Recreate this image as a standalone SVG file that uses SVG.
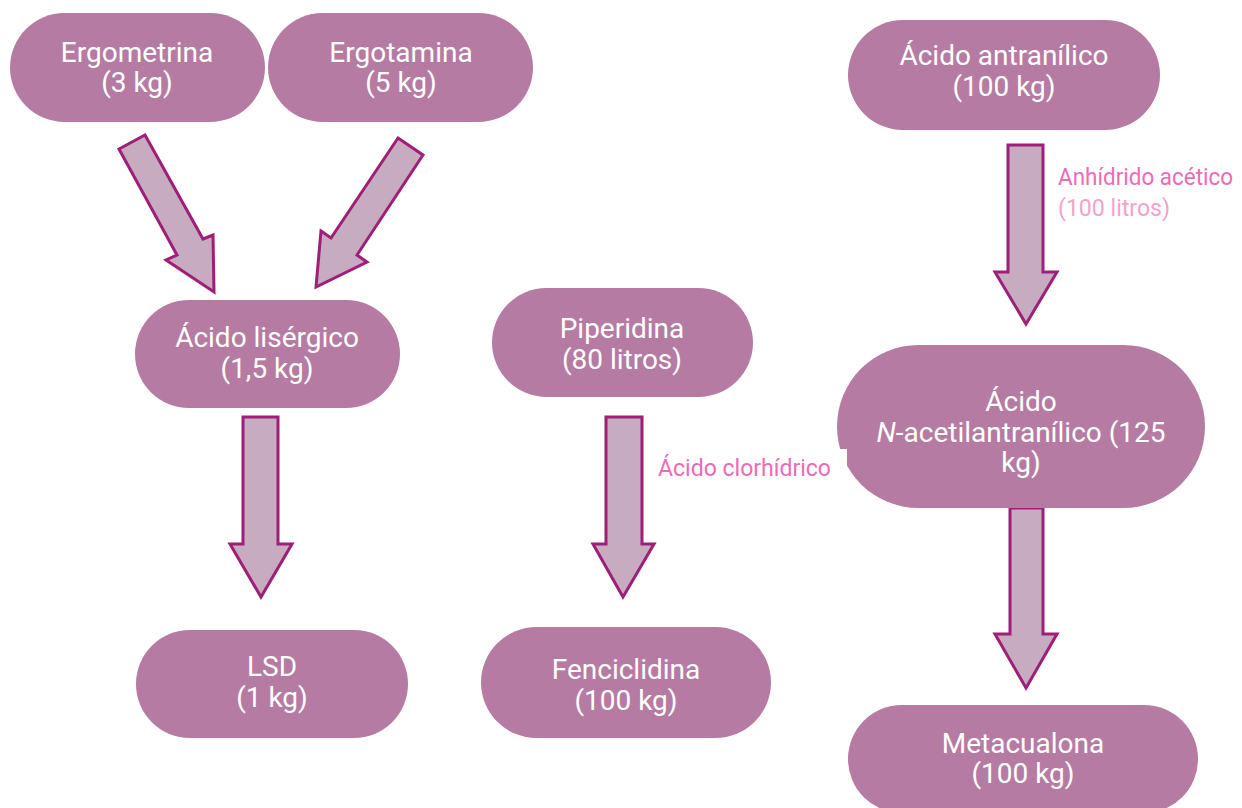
<svg xmlns="http://www.w3.org/2000/svg" width="1242" height="808" viewBox="0 0 1242 808">
<style>
.node{fill:#B67BA2}
.nt{font-family:Roboto,"Liberation Sans",sans-serif;font-size:28px;fill:#ffffff;text-anchor:middle}
.arrow{fill:#C6ABC1;stroke:#9E1E78;stroke-width:3;stroke-linejoin:miter}
.lbl{font-family:Roboto,"Liberation Sans",sans-serif;font-size:24px;fill:#EE6BB5}
.lbl2{fill:#F3A2CC}
</style>
<rect width="1242" height="808" fill="#ffffff"/>
<g id="connectors">
<polygon class="arrow" points="119,149 145,135 203,239 213,235 214,292 166,260 177,255"/>
<polygon class="arrow" points="398,138 423,155 357,255 367,262 316,287 321,231 331,238"/>
<polygon class="arrow" points="243,417 278,417 278,544 292,544 261,597 230,544 243,544"/>
<polygon class="arrow" points="606,417 642,417 642,544 654,544 623,597 593,544 606,544"/>
<polygon class="arrow" points="1008,145 1043,145 1043,272 1057,272 1026,324 995,272 1008,272"/>
<polygon class="arrow" points="1010,508 1043,508 1043,634 1057,634 1026,688 995,634 1010,634"/>
<text class="lbl" x="1058" y="185" textLength="175" lengthAdjust="spacingAndGlyphs">Anhídrido acético</text>
<text class="lbl lbl2" x="1058" y="216" textLength="112" lengthAdjust="spacingAndGlyphs">(100 litros)</text>
</g>
<g id="n-ergometrina">
<rect class="node" x="10" y="13" width="255" height="109" rx="54.5"/>
<text class="nt" x="137" y="62">Ergometrina</text>
<text class="nt" x="137" y="92">(3 kg)</text>
</g>
<g id="n-ergotamina">
<rect class="node" x="268" y="13" width="265" height="109" rx="54.5"/>
<text class="nt" x="401" y="62">Ergotamina</text>
<text class="nt" x="401" y="92">(5 kg)</text>
</g>
<g id="n-antranilico">
<rect class="node" x="848" y="20" width="312" height="110" rx="55"/>
<text class="nt" x="1004" y="65">Ácido antranílico</text>
<text class="nt" x="1004" y="96">(100 kg)</text>
</g>
<g id="n-lisergico">
<rect class="node" x="135" y="300" width="265" height="108" rx="54"/>
<text class="nt" x="267" y="347">Ácido lisérgico</text>
<text class="nt" x="267" y="378">(1,5 kg)</text>
</g>
<g id="n-piperidina">
<rect class="node" x="492" y="288" width="261" height="109" rx="54.5"/>
<text class="nt" x="622" y="338">Piperidina</text>
<text class="nt" x="622" y="369">(80 litros)</text>
</g>
<g id="n-acetilantranilico">
<rect class="node" x="837" y="345" width="368" height="163" rx="81.5"/>
<text class="nt" x="1021" y="411">Ácido</text>
<text class="nt" x="1021" y="442"><tspan font-style="italic">N</tspan>-acetilantranílico (125</text>
<text class="nt" x="1021" y="472">kg)</text>
</g>
<g id="lbl-clorhidrico">
<rect x="650" y="449" width="197" height="42" fill="#ffffff"/>
<text class="lbl" x="658" y="476" textLength="173" lengthAdjust="spacingAndGlyphs">Ácido clorhídrico</text>
</g>
<g id="n-lsd">
<rect class="node" x="136" y="630" width="272" height="108" rx="54"/>
<text class="nt" x="272" y="676">LSD</text>
<text class="nt" x="272" y="707">(1 kg)</text>
</g>
<g id="n-fenciclidina">
<rect class="node" x="481" y="627" width="290" height="111" rx="55.5"/>
<text class="nt" x="626" y="679">Fenciclidina</text>
<text class="nt" x="626" y="710">(100 kg)</text>
</g>
<g id="n-metacualona">
<rect class="node" x="848" y="705" width="350" height="108" rx="54"/>
<text class="nt" x="1023" y="753">Metacualona</text>
<text class="nt" x="1023" y="783">(100 kg)</text>
</g>
</svg>
